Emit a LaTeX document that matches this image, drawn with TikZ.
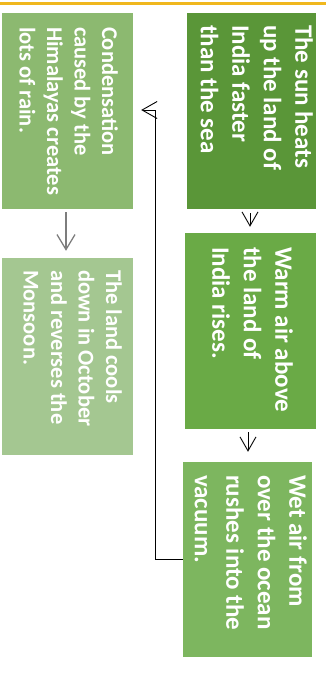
\documentclass[tikz,border=0pt]{standalone}
\usepackage{fontspec}
\setmainfont{Carlito}
\usetikzlibrary{arrows.meta}

\definecolor{sungreen}{RGB}{90,150,56}
\definecolor{warmgreen}{RGB}{106,170,70}
\definecolor{wetgreen}{RGB}{125,182,95}
\definecolor{condgreen}{RGB}{140,185,112}
\definecolor{coolgreen}{RGB}{164,199,145}
\definecolor{barorange}{RGB}{240,183,30}
\definecolor{arrowgray}{RGB}{125,125,125}

\tikzset{
	stage/.style={rectangle, inner sep=0pt, minimum width=130pt, minimum height=196pt},
	stagetext/.style={rotate=-90, anchor=north west, inner sep=0pt, align=left,
		text=white, font=\bfseries\fontsize{25}{31.5}\selectfont},
	smalltext/.style={stagetext, font=\bfseries\fontsize{22.5}{27.5}\selectfont},
	flow/.style={line width=0.9pt, -{Straight Barb[length=14pt,width=16pt,line width=0.9pt]}},
	loopback/.style={line width=0.9pt, -{Straight Barb[length=15pt,width=17pt,line width=0.9pt]}},
	grayflow/.style={arrowgray, line width=1.3pt, -{Straight Barb[length=15pt,width=18pt,line width=1.3pt]}}
}

\begin{document}
\begin{tikzpicture}[x=1pt, y=-1pt]
	\useasboundingbox (0,0) rectangle (326,675);
	\draw[barorange, line width=3pt] (0,3.5) -- (326,3.5);

	% right column
	\node[stage, fill=sungreen, minimum width=129pt] (sun) at (251.5,111) {};
	\node[stage, fill=warmgreen, minimum width=131pt] (warm) at (250.5,331) {};
	\node[stage, fill=wetgreen, minimum width=129pt, minimum height=195pt] (wet) at (247.5,559.5) {};
	% left column
	\node[stage, fill=condgreen, minimum width=131pt] (cond) at (67.5,111) {};
	\node[stage, fill=coolgreen, minimum width=131pt, minimum height=197pt] (cool) at (67.5,356.5) {};

	\node[stagetext] (sun-text) at ([xshift=-3pt,yshift=-12pt]sun.north east)
		{The sun heats\\up the land of\\India faster\\than the sea};
	\node[stagetext] (warm-text) at ([xshift=-23pt,yshift=-14pt]warm.north east)
		{Warm air above\\the land of\\India rises.};
	\node[stagetext] (wet-text) at ([xshift=-5pt,yshift=-13pt]wet.north east)
		{Wet air from\\over the ocean\\rushes into the\\vacuum.};
	\node[smalltext] (cond-text) at ([xshift=-15pt,yshift=-14pt]cond.north east)
		{Condensation\\caused by the\\Himalayas creates\\lots of rain.};
	\node[smalltext] (cool-text) at ([xshift=-11pt,yshift=-12pt]cool.north east)
		{The land cools\\down in October\\and reverses the\\Monsoon.};

	\draw[flow] ([xshift=-1.5pt,yshift=-4pt]sun.south) -- ([xshift=-0.5pt,yshift=6pt]warm.north);
	\draw[flow] ([xshift=-2.5pt,yshift=-3pt]warm.south) -- ([xshift=0.5pt,yshift=10pt]wet.north);
	\draw[loopback] (wet.west) -- ++(-27,0) |- ([xshift=8pt,yshift=1pt]cond.east);
	\draw[grayflow] ([xshift=-1.5pt,yshift=-3pt]cond.south) -- ([xshift=-1.5pt,yshift=7pt]cool.north);
\end{tikzpicture}
\end{document}
